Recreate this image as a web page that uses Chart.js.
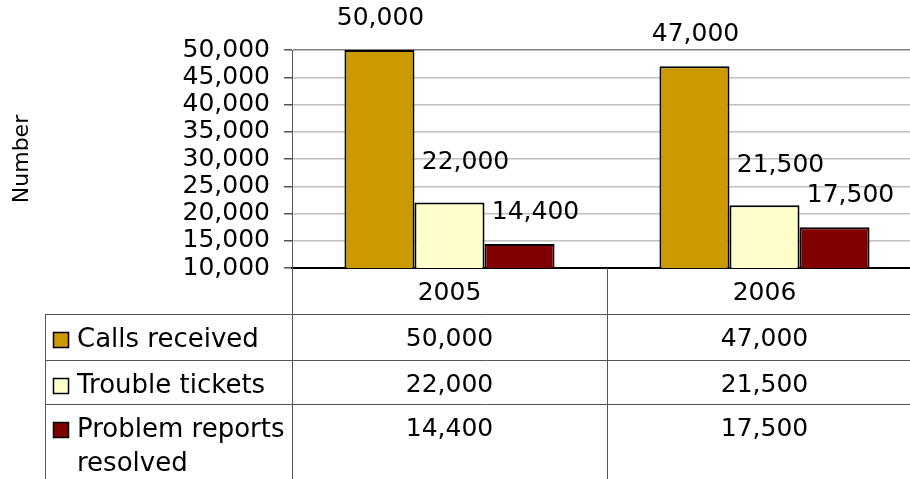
<!DOCTYPE html>
<html>
<head>
<meta charset="utf-8">
<script src="https://cdn.jsdelivr.net/npm/chart.js@4/dist/chart.umd.min.js"></script>
<style>
    html, body { margin: 0; padding: 0; background: #fff; overflow: hidden; }
    #wrap { width: 930px; height: 479px; }
</style>
</head>
<body>
<div id="wrap"><canvas id="chartLlamadas" width="930" height="479"></canvas></div>
<script>
const years = ['2005', '2006'];
const seriesNames = ['Calls received', 'Trouble tickets', 'Problem reports\nresolved'];
const callsReceived = [50000, 47000];
const troubleTickets = [22000, 21500];
const problemsResolved = [14400, 17500];
const yTicks = [10000, 15000, 20000, 25000, 30000, 35000, 40000, 45000, 50000];

const colores = ['#CC9900', '#FFFFCC', '#800000'];
const FONT = '"DejaVu Sans", Verdana, sans-serif';
const fmt = function (v) { return v.toLocaleString('en-US'); };

// offsets of the value labels above each series' bars
const labelShift = [{ dx: 1, dy: 32 }, { dx: 16, dy: 40 }, { dx: 16, dy: 32 }];

const barLabels = {
    id: 'barLabels',
    afterDatasetsDraw(chart) {
        const ctx = chart.ctx;
        ctx.save();
        ctx.font = '25px ' + FONT;
        ctx.fillStyle = '#000';
        ctx.textAlign = 'center';
        ctx.textBaseline = 'middle';
        chart.data.datasets.forEach(function (ds, i) {
            chart.getDatasetMeta(i).data.forEach(function (bar, j) {
                ctx.fillText(fmt(ds.data[j]), bar.x + labelShift[i].dx, bar.y - labelShift[i].dy);
            });
        });
        ctx.restore();
    }
};

// data table under the plot area
const dataTable = {
    id: 'dataTable',
    afterDraw(chart) {
        const ctx = chart.ctx;
        const area = chart.chartArea;
        const x = chart.scales.x;
        const bottom = chart.height;
        const right = chart.width;
        const left = 45;
        const rows = [area.bottom + 46, area.bottom + 92, area.bottom + 136];
        const half = (x.getPixelForValue(1) - x.getPixelForValue(0)) / 2;

        ctx.save();
        ctx.strokeStyle = '#555';
        ctx.lineWidth = 1;
        ctx.beginPath();
        rows.forEach(function (y) {
            ctx.moveTo(left, y + 0.5);
            ctx.lineTo(right, y + 0.5);
        });
        ctx.moveTo(left + 0.5, rows[0]);
        ctx.lineTo(left + 0.5, bottom);
        ctx.moveTo(area.left + 0.5, area.bottom);
        ctx.lineTo(area.left + 0.5, bottom);
        for (let j = 0; j < years.length - 1; j++) {
            const xb = Math.round(x.getPixelForValue(j) + half) + 0.5;
            ctx.moveTo(xb, area.bottom);
            ctx.lineTo(xb, bottom);
        }
        ctx.stroke();

        ctx.font = '25px ' + FONT;
        ctx.fillStyle = '#000';
        ctx.textBaseline = 'middle';
        ctx.textAlign = 'center';
        years.forEach(function (yr, j) {
            ctx.fillText(yr, x.getPixelForValue(j), area.bottom + 25);
        });

        chart.data.datasets.forEach(function (ds, i) {
            const yMid = rows[i] + 26;
            ctx.fillStyle = colores[i];
            ctx.fillRect(53.5, yMid - 7.5, 15, 15);
            ctx.strokeStyle = '#000';
            ctx.lineWidth = 1.5;
            ctx.strokeRect(53.5, yMid - 7.5, 15, 15);
            ctx.fillStyle = '#000';
            ctx.textAlign = 'left';
            ctx.font = '26px ' + FONT;
            seriesNames[i].split('\n').forEach(function (line, k) {
                ctx.fillText(line, 77, yMid + k * 34);
            });
            ctx.textAlign = 'center';
            ctx.font = '25px ' + FONT;
            ds.data.forEach(function (v, j) {
                ctx.fillText(fmt(v), x.getPixelForValue(j), yMid - 1);
            });
        });
        ctx.restore();
    }
};

new Chart(document.getElementById('chartLlamadas').getContext('2d'), {
    type: 'bar',
    data: {
        labels: years,
        datasets: [
            { label: seriesNames[0], data: callsReceived, backgroundColor: colores[0] },
            { label: seriesNames[1], data: troubleTickets, backgroundColor: colores[1] },
            { label: seriesNames[2], data: problemsResolved, backgroundColor: colores[2] }
        ].map(function (ds) {
            return Object.assign(ds, {
                borderColor: '#000',
                borderWidth: 2,
                borderSkipped: false,
                categoryPercentage: 0.667,
                barPercentage: 1.0
            });
        })
    },
    options: {
        responsive: false,
        animation: false,
        devicePixelRatio: 1,
        layout: { padding: { left: 0, top: 50, right: 8, bottom: 0 } },
        plugins: { legend: { display: false }, tooltip: { enabled: false } },
        scales: {
            x: {
                ticks: { display: false },
                grid: { display: false },
                border: { display: true, color: '#000', width: 2 },
                afterFit: function (s) { s.height = 211; }
            },
            y: {
                min: 10000,
                max: 50000,
                afterBuildTicks: function (s) { s.ticks = yTicks.map(function (v) { return { value: v }; }); },
                afterFit: function (s) { s.width = 292; },
                ticks: {
                    autoSkip: false,
                    padding: 14,
                    color: '#000',
                    font: { family: FONT, size: 25 },
                    callback: function (v) { return fmt(v); }
                },
                grid: {
                    color: function (c) { return c.tick && c.tick.value === 50000 ? '#808080' : '#c0c0c0'; },
                    lineWidth: 1.5,
                    tickLength: 8,
                    tickColor: '#555'
                },
                border: { color: '#555', width: 1 },
                title: {
                    display: true,
                    text: 'Number',
                    color: '#000',
                    font: { family: FONT, size: 22 },
                    padding: { top: 9, bottom: 4 }
                }
            }
        }
    },
    plugins: [barLabels, dataTable]
});
</script>
</body>
</html>
